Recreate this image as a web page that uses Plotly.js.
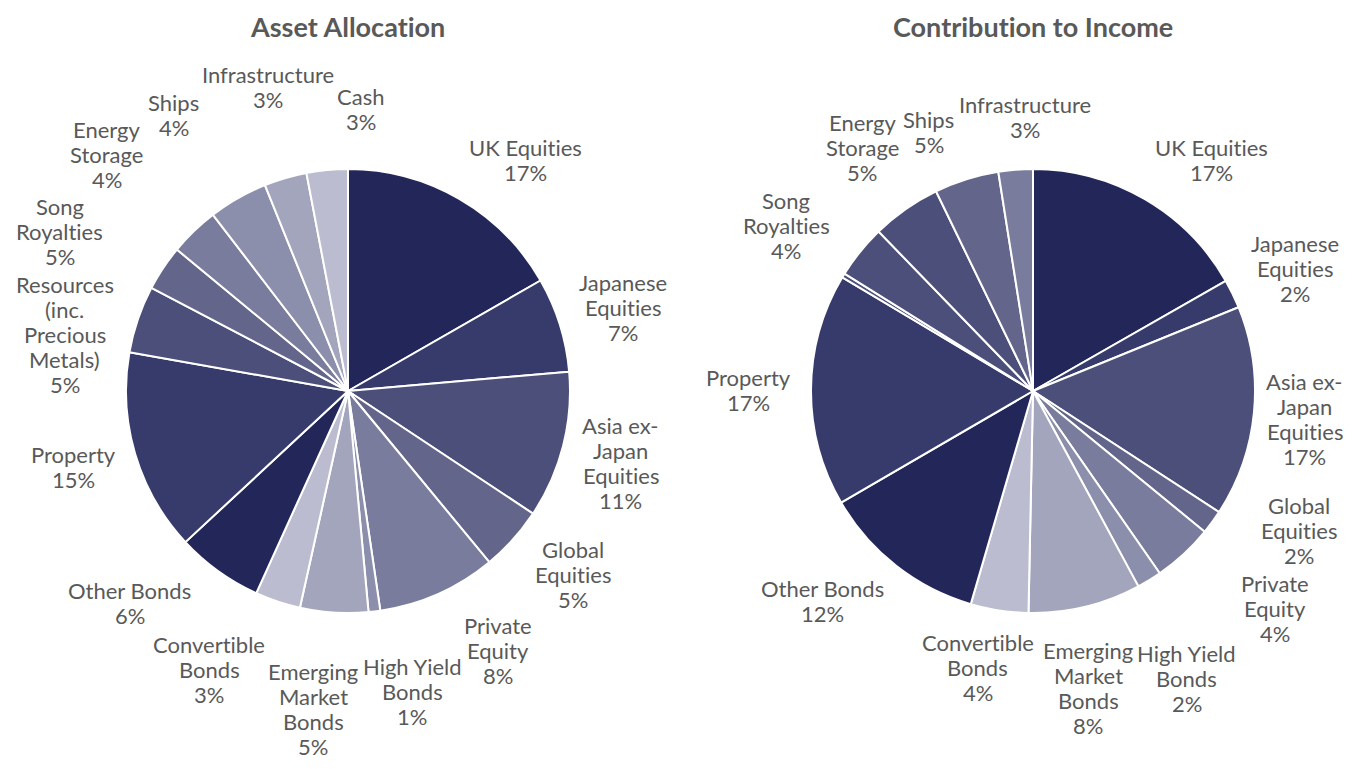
<!DOCTYPE html>
<html>
<head>
<meta charset="utf-8">
<script src="https://cdn.plot.ly/plotly-3.0.1.min.js"></script>
<style>
html,body{margin:0;padding:0;background:#fff;}
#chart{width:1359px;height:769px;}
text{font-variant-ligatures:none;font-feature-settings:"liga" 0;}
</style>
</head>
<body>
<div id="chart"></div>
<script>
// ---------- DATA ----------
const allocCategories = ['UK Equities','Japanese Equities','Asia ex-Japan Equities','Global Equities','Private Equity','High Yield Bonds','Emerging Market Bonds','Convertible Bonds','Other Bonds','Property','Resources (inc. Precious Metals)','Song Royalties','Energy Storage','Ships','Infrastructure','Cash'];
const allocValues = [16.7,6.9,10.7,4.7,8.65,0.85,4.95,3.3,6.3,14.7,4.9,3.3,3.6,4.3,3.1,3.0];
const allocShownPct = [17,7,11,5,8,1,5,3,6,15,5,5,4,4,3,3];

const incomeCategories = ['UK Equities','Japanese Equities','Asia ex-Japan Equities','Global Equities','Private Equity','High Yield Bonds','Emerging Market Bonds','Convertible Bonds','Other Bonds','Property','Resources (inc. Precious Metals)','Song Royalties','Energy Storage','Ships','Infrastructure'];
const incomeValues = [16.75,2.1,15.35,1.75,4.4,1.8,8.2,4.2,12.1,16.95,0.3,3.9,5.05,4.7,2.5];
const incomeShownPct = [17,2,17,2,4,2,8,4,12,17,null,4,5,5,3];

const wrappedNames = {
  'UK Equities':['UK Equities'],
  'Japanese Equities':['Japanese','Equities'],
  'Asia ex-Japan Equities':['Asia ex-','Japan','Equities'],
  'Global Equities':['Global','Equities'],
  'Private Equity':['Private','Equity'],
  'High Yield Bonds':['High Yield','Bonds'],
  'Emerging Market Bonds':['Emerging','Market','Bonds'],
  'Convertible Bonds':['Convertible','Bonds'],
  'Other Bonds':['Other Bonds'],
  'Property':['Property'],
  'Resources (inc. Precious Metals)':['Resources','(inc.','Precious','Metals)'],
  'Song Royalties':['Song','Royalties'],
  'Energy Storage':['Energy','Storage'],
  'Ships':['Ships'],
  'Infrastructure':['Infrastructure'],
  'Cash':['Cash']
};

// ---------- STYLE ----------
const allocColors = ['#232659','#373b6b','#4b4f7a','#63668a','#797c9c','#8c8fab','#a3a5bd','#bbbccf','#232659','#373b6b','#4b4f7a','#63668a','#797c9c','#8c8fab','#a3a5bd','#bbbccf'];
const incomeColors = ['#232659','#373b6b','#4b4f7a','#63668a','#797c9c','#8c8fab','#a3a5bd','#bbbccf','#232659','#373b6b','#4b4f7a','#4b4f7a','#4b4f7a','#63668a','#797c9c'];

const W = 1359, H = 769;
const R = 222;
const pies = [
  {cx:348, cy:391, title:'Asset Allocation', cats:allocCategories, vals:allocValues, shown:allocShownPct, colors:allocColors},
  {cx:1033, cy:391, title:'Contribution to Income', cats:incomeCategories, vals:incomeValues, shown:incomeShownPct, colors:incomeColors}
];
const FONT = 'Lato';
const FS = 22;
const LH = 25;
const TXT = '#595959';
const GAP = 20;
const EDGE = 16;

const ctx = document.createElement('canvas').getContext('2d');
ctx.font = FS + 'px ' + FONT;
function clamp(v){ return Math.max(-1, Math.min(1, v)); }

function boxFor(p, L){
  const s = Math.sin(L.phi), c = Math.cos(L.phi);
  const d = R + GAP + L.e;
  const px = p.cx + d*s, py = p.cy - d*c;
  let bx = px + clamp(s*2.2)*L.w/2;
  const by = py - c*L.h/2;
  bx = Math.max(EDGE + L.w/2, Math.min(W - EDGE - L.w/2, bx));
  return {x0:bx-L.w/2, x1:bx+L.w/2, y0:by-L.h/2, y1:by+L.h/2, cx:bx, cy:by};
}
function overlap(a,b,pad){
  return a.x0 < b.x1+pad && b.x0 < a.x1+pad && a.y0 < b.y1+pad && b.y0 < a.y1+pad;
}

const traces = [];
const annotations = [];
pies.forEach(p => {
  traces.push({
    type:'pie',
    values:p.vals,
    labels:p.cats,
    sort:false,
    direction:'clockwise',
    rotation:0,
    textinfo:'none',
    hoverinfo:'label+percent',
    marker:{colors:p.colors, line:{color:'#ffffff', width:2}},
    domain:{x:[(p.cx-R)/W,(p.cx+R)/W], y:[1-(p.cy+R)/H, 1-(p.cy-R)/H]},
    showlegend:false
  });
  const total = p.vals.reduce((a,b)=>a+b,0);
  let cum = 0;
  const labels = [];
  p.vals.forEach((v,i) => {
    const mid = (cum + v/2)/total * 2*Math.PI;
    cum += v;
    if (p.shown[i] === null) return;
    const lines = wrappedNames[p.cats[i]].concat([p.shown[i] + '%']);
    let w = 0;
    lines.forEach(l => { w = Math.max(w, ctx.measureText(l).width); });
    labels.push({lines:lines, w:w, h:lines.length*LH, phi:mid, e:0});
  });
  // simple label collision resolution: spread neighbours apart along the ring
  const n = labels.length;
  const dPhi = 0.3*Math.PI/180, dE = 0.6;
  for (let it=0; it<800; it++){
    let any = false;
    const boxes = labels.map(L => boxFor(p, L));
    for (let i=0;i<n;i++){
      const j = (i+1)%n;
      if (overlap(boxes[i], boxes[j], 2)){
        labels[i].phi -= dPhi; labels[j].phi += dPhi;
        labels[i].e += dE; labels[j].e += dE;
        any = true;
      }
    }
    if (!any) break;
  }
  labels.forEach(L => {
    const b = boxFor(p, L);
    L.lines.forEach((t,k) => {
      const yc = b.y0 + (k+0.5)*LH;
      annotations.push({
        x:b.cx/W, y:1-yc/H, xref:'paper', yref:'paper',
        xanchor:'center', yanchor:'middle', showarrow:false,
        text:t, font:{family:FONT, size:FS, color:TXT}
      });
    });
  });
  annotations.push({
    x:p.cx/W, y:1-27/H, xref:'paper', yref:'paper', xanchor:'center', yanchor:'middle',
    showarrow:false, text:p.title, font:{family:FONT, size:27, color:TXT, weight:700}
  });
});

Plotly.newPlot('chart', traces, {
  width:W, height:H, margin:{l:0,r:0,t:0,b:0},
  paper_bgcolor:'#ffffff', plot_bgcolor:'#ffffff',
  annotations:annotations, showlegend:false
}, {displayModeBar:false, staticPlot:true});
</script>
</body>
</html>
